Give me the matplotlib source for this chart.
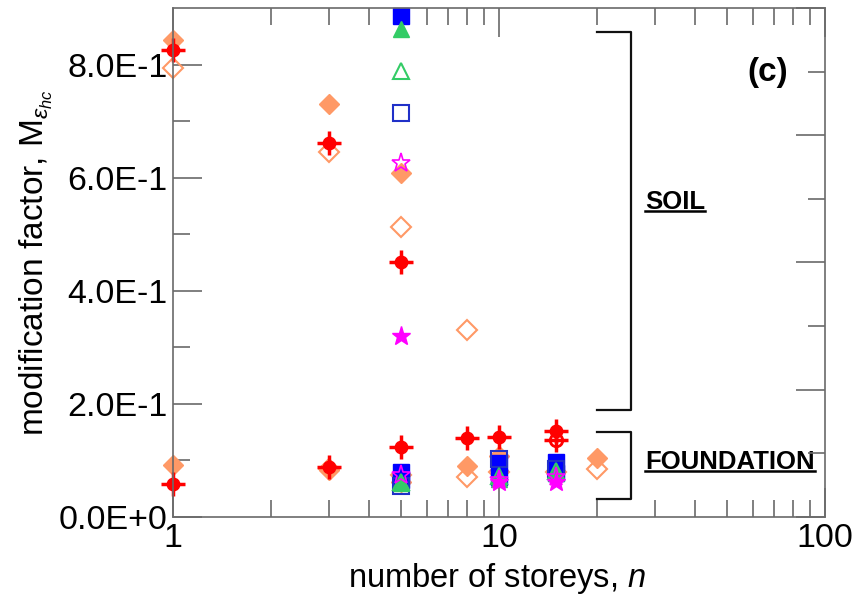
import matplotlib
matplotlib.use('Agg')
import matplotlib.pyplot as plt
from matplotlib.lines import Line2D
from matplotlib.ticker import FixedLocator, FuncFormatter, NullFormatter

plt.rcParams['font.family'] = ['Liberation Sans', 'DejaVu Sans']
plt.rcParams['mathtext.fontset'] = 'custom'
plt.rcParams['mathtext.rm'] = 'Liberation Sans'
plt.rcParams['mathtext.it'] = 'Liberation Sans:italic'

# modification factor vs number of storeys, one list pair per marker style
red_filled_n = [1, 3, 5, 1, 3, 5, 8, 10, 15]
red_filled_m = [0.825, 0.662, 0.451, 0.058, 0.089, 0.124, 0.140, 0.142, 0.152]
red_open_n = [15]
red_open_m = [0.136]

orange_filled_n = [1, 3, 5, 1, 3, 5, 8, 10, 20]
orange_filled_m = [0.844, 0.731, 0.609, 0.092, 0.083, 0.062, 0.090, 0.108, 0.104]
orange_open_n = [1, 3, 5, 8, 3, 5, 8, 10, 15, 20]
orange_open_m = [0.793, 0.646, 0.512, 0.331, 0.085, 0.074, 0.071, 0.080, 0.080, 0.085]

blue_filled_n = [5, 5, 5, 10, 10, 15, 15]
blue_filled_m = [0.885, 0.080, 0.065, 0.095, 0.070, 0.097, 0.078]
blue_open_n = [5, 5, 10, 15]
blue_open_m = [0.715, 0.055, 0.103, 0.085]

green_filled_n = [5, 5, 10, 15]
green_filled_m = [0.862, 0.060, 0.068, 0.078]
green_open_n = [5, 5, 10, 15]
green_open_m = [0.789, 0.062, 0.072, 0.082]

magenta_filled_n = [5, 10, 15]
magenta_filled_m = [0.320, 0.062, 0.062]
magenta_open_n = [5, 5, 10, 15]
magenta_open_m = [0.626, 0.075, 0.066, 0.070]

y_ticks = [0.0, 0.2, 0.4, 0.6, 0.8]
x_ticks = [1, 10, 100]

RED = '#ff0000'
ORANGE = '#ff9966'
BLUE = '#0000ff'
BLUE_OPEN = '#2030c8'
GREEN = '#33cc66'
MAGENTA = '#ff00ff'
FRAME = '#6a6a6a'

fig = plt.figure(figsize=(8.59, 5.95), dpi=100)
ax = fig.add_axes([0.2014, 0.1311, 0.7590, 0.8555])


def pts(n, m, **kw):
    ax.plot(n, m, linestyle='none', clip_on=False, **kw)


pts(orange_filled_n, orange_filled_m, marker='D', ms=10, color=ORANGE, mec=ORANGE)
pts(orange_open_n, orange_open_m, marker='D', ms=10, mfc='none', mec=ORANGE, mew=1.5)
pts(blue_filled_n, blue_filled_m, marker='s', ms=12, color=BLUE, mec=BLUE)
pts(blue_open_n, blue_open_m, marker='s', ms=12, mfc='none', mec=BLUE_OPEN, mew=1.5)
pts(green_filled_n, green_filled_m, marker='^', ms=12, color=GREEN, mec=GREEN)
pts(green_open_n, green_open_m, marker='^', ms=12, mfc='none', mec=GREEN, mew=1.5)
pts(magenta_filled_n, magenta_filled_m, marker='*', ms=14, color=MAGENTA, mec=MAGENTA)
pts(magenta_open_n, magenta_open_m, marker='*', ms=14, mfc='none', mec=MAGENTA, mew=1.2)
# red circles with a cross hair through them
pts(red_filled_n, red_filled_m, marker='o', ms=9, color=RED, mec=RED)
pts(red_filled_n, red_filled_m, marker='+', ms=17, mec=RED, mew=2.5)
pts(red_open_n, red_open_m, marker='o', ms=9, mfc='none', mec=RED, mew=2)
pts(red_open_n, red_open_m, marker='+', ms=17, mec=RED, mew=2.5)

ax.set_xscale('log')
ax.set_xlim(1, 100)
ax.set_ylim(0, 0.9)

ax.xaxis.set_major_locator(FixedLocator(x_ticks))
ax.xaxis.set_major_formatter(FuncFormatter(lambda v, p: '%g' % v))
ax.xaxis.set_minor_locator(FixedLocator([d * k for d in (1, 10) for k in range(2, 10)]))
ax.xaxis.set_minor_formatter(NullFormatter())
ax.yaxis.set_major_locator(FixedLocator(y_ticks))
ax.yaxis.set_major_formatter(FuncFormatter(
    lambda v, p: '0.0E+0' if v == 0 else '%.1fE-1' % (v * 10)))
ax.yaxis.set_minor_locator(FixedLocator([0.1, 0.3, 0.5, 0.7]))

ax.tick_params(which='both', direction='in', color=FRAME, width=1.2,
               top=True, labelsize=24.5, labelcolor='black')
ax.tick_params(which='major', length=21)
ax.tick_params(which='minor', length=12.5)
ax.tick_params(axis='y', which='both', right=False, pad=4)
ax.tick_params(axis='x', which='both', pad=4)

for s in ax.spines.values():
    s.set_color(FRAME)
    s.set_linewidth(1.2)

# right axis has its own tick spacing
ax2 = ax.twinx()
ax2.set_ylim(0, 8)
ax2.yaxis.set_major_locator(FixedLocator([0, 2, 4, 6, 8]))
ax2.yaxis.set_minor_locator(FixedLocator([1, 3, 5, 7]))
ax2.yaxis.set_major_formatter(NullFormatter())
ax2.tick_params(which='both', direction='in', color=FRAME, width=1.2)
ax2.tick_params(which='major', length=21)
ax2.tick_params(which='minor', length=12.5)
for s in ax2.spines.values():
    s.set_visible(False)

ax.set_xlabel('number of storeys, $n$', fontsize=23.5)
ax.set_ylabel(r'modification factor, M$_{\varepsilon_{hc}}$', fontsize=24)
ax.xaxis.set_label_coords(0.497, -0.086)
ax.yaxis.set_label_coords(-0.181, 0.5)

# brackets grouping the soil and foundation results
bx0, bx1 = 20, 25.4
ax.plot([bx0, bx1, bx1, bx0], [0.857, 0.857, 0.189, 0.189], color='#111111',
        lw=1.6, clip_on=False)
ax.plot([bx0, bx1, bx1, bx0], [0.150, 0.150, 0.032, 0.032], color='#111111',
        lw=1.6, clip_on=False)

ax.text(0.943, 0.874, '(c)', transform=ax.transAxes, fontsize=24,
        fontweight='bold', ha='right', va='center')
labels = [
    ax.text(0.724, 0.619, 'SOIL', transform=ax.transAxes, fontsize=18.5,
            fontweight='bold', ha='left', va='center'),
    ax.text(0.724, 0.108, 'FOUNDATION', transform=ax.transAxes, fontsize=18.5,
            fontweight='bold', ha='left', va='center'),
]

# underline the group labels
fig.canvas.draw()
inv = fig.transFigure.inverted()
for t in labels:
    bb = t.get_window_extent()
    (x0, y0), (x1, _) = inv.transform([(bb.x0, bb.y0), (bb.x1, bb.y1)])
    y_line = y0 + 3.0 / fig.bbox.height
    fig.add_artist(Line2D([x0, x1], [y_line, y_line], color='black', lw=1.8))

fig.savefig('out.png', dpi=100)
